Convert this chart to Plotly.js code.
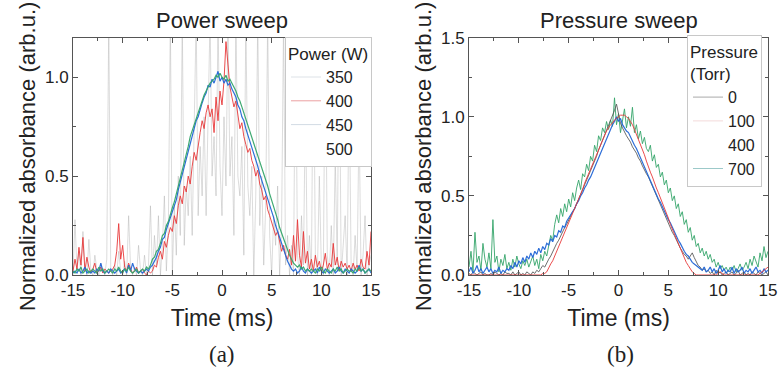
<!DOCTYPE html>
<html><head><meta charset="utf-8">
<script src="https://cdn.plot.ly/plotly-3.0.1.min.js"></script>
<style>html,body{margin:0;padding:0;background:#fff}#chart{width:778px;height:373px}</style>
</head><body><div id="chart"></div>
<script>
// time grid (ms), 0.2 ms step from -15 to 15
const tStart = -15, tStep = 0.2, tCount = 151;
const time = Array.from({length: tCount}, (_, i) => +(tStart + tStep * i).toFixed(1));

// ---- (a) Power sweep, normalized absorbance ----
const power350 = [
0.0,0.28,0.02,0.12,0.0,0.22,0.05,0.0,0.18,0.02,
0.0,0.1,0.03,0.0,0.06,0.02,0.0,0.08,1.3,0.02,
0.0,0.05,0.0,0.12,0.02,0.0,0.07,0.0,0.3,0.03,
0.0,0.04,0.0,0.15,0.02,0.0,0.1,0.0,0.05,0.35,
0.0,0.2,0.05,0.3,0.0,0.15,0.4,0.02,0.25,1.3,
0.0,0.35,0.1,0.5,0.2,1.3,0.15,0.45,0.3,0.6,
0.2,0.7,1.3,0.3,0.65,0.4,0.8,0.3,0.75,1.3,
0.5,0.7,0.4,1.3,0.55,0.3,0.8,0.45,1.3,0.5,
0.7,0.2,1.3,0.5,0.4,0.65,0.1,1.3,0.45,0.3,
0.55,0.0,0.4,1.3,0.25,0.5,0.05,0.35,1.3,0.2,
0.0,0.3,0.15,0.45,0.0,0.25,1.3,0.05,0.2,0.0,
0.15,0.0,1.3,0.1,0.0,0.3,0.05,0.9,0.0,0.2,
0.0,1.3,0.1,0.0,0.5,0.05,0.0,1.3,0.1,0.0,
0.25,0.0,0.6,0.05,1.3,0.0,0.15,0.3,0.0,1.0,
0.05,0.0,0.2,0.02,0.8,0.0,0.1,0.3,0.0,0.05,
0.1];
const power400 = [
0.02,0.08,0.03,0.14,0.05,0.19,0.02,0.09,0.04,0.01,
0.03,0.06,0.01,0.02,0.04,0.01,0.03,0.02,0.01,0.02,
0.03,0.05,0.12,0.26,0.08,0.15,0.04,0.02,0.06,0.03,
0.01,0.02,0.04,0.01,0.02,0.03,0.01,0.0,0.02,0.01,
0.02,0.05,0.04,0.09,0.12,0.08,0.17,0.14,0.2,0.24,
0.22,0.3,0.26,0.35,0.4,0.36,0.45,0.42,0.5,0.46,
0.55,0.62,0.58,0.66,0.72,0.78,0.74,0.82,0.86,0.8,
0.84,0.72,0.9,0.78,0.93,0.86,0.98,1.18,1.05,0.95,
0.9,0.85,0.88,0.8,0.74,0.77,0.7,0.66,0.62,0.64,
0.58,0.55,0.5,0.53,0.46,0.43,0.38,0.4,0.33,0.3,
0.27,0.24,0.2,0.22,0.16,0.12,0.15,0.1,0.08,0.13,
0.05,0.2,0.07,0.28,0.1,0.04,0.22,0.06,0.12,0.03,
0.08,0.02,0.1,0.04,0.07,0.02,0.05,0.11,0.03,0.06,
0.04,0.16,0.05,0.09,0.02,0.07,0.04,0.06,0.03,0.05,
0.02,0.06,0.03,0.05,0.02,0.08,0.04,0.03,0.12,0.05,
0.22];
const power450 = [
0.01,0.02,0.01,0.03,0.01,0.02,0.04,0.01,0.02,0.01,
0.02,0.01,0.03,0.02,0.06,0.02,0.01,0.02,0.01,0.03,
0.02,0.01,0.02,0.03,0.01,0.02,0.03,0.01,0.05,0.02,
0.06,0.03,0.02,0.01,0.02,0.01,0.02,0.03,0.02,0.04,
0.05,0.07,0.09,0.12,0.14,0.18,0.19,0.23,0.26,0.29,
0.32,0.36,0.38,0.43,0.47,0.5,0.55,0.58,0.63,0.66,
0.7,0.74,0.78,0.8,0.84,0.87,0.9,0.92,0.96,0.95,
0.99,0.97,1.0,1.03,0.98,1.0,0.97,0.99,0.96,0.97,
0.94,0.92,0.9,0.86,0.84,0.8,0.78,0.74,0.71,0.68,
0.65,0.61,0.58,0.55,0.51,0.48,0.45,0.41,0.38,0.35,
0.32,0.29,0.25,0.22,0.18,0.16,0.12,0.1,0.07,0.05,
0.03,0.02,0.03,0.01,0.02,0.04,0.02,0.01,0.03,0.02,
0.01,0.02,0.03,0.01,0.04,0.02,0.01,0.03,0.02,0.01,
0.02,0.03,0.01,0.02,0.04,0.02,0.01,0.03,0.02,0.01,
0.03,0.02,0.01,0.02,0.05,0.02,0.03,0.01,0.02,0.03,
0.01];
const power500 = [
0.02,0.01,0.03,0.02,0.04,0.01,0.02,0.03,0.01,0.02,
0.03,0.02,0.01,0.04,0.02,0.03,0.01,0.02,0.03,0.02,
0.01,0.03,0.02,0.04,0.02,0.01,0.03,0.02,0.04,0.02,
0.01,0.02,0.03,0.01,0.02,0.03,0.02,0.04,0.03,0.05,
0.08,0.09,0.12,0.13,0.16,0.2,0.21,0.25,0.27,0.31,
0.34,0.37,0.41,0.44,0.49,0.53,0.57,0.61,0.65,0.7,
0.73,0.76,0.8,0.82,0.86,0.88,0.91,0.93,0.95,0.97,
0.98,0.99,1.01,1.0,1.02,1.0,0.99,1.01,0.98,0.99,
0.97,0.95,0.93,0.9,0.88,0.85,0.82,0.79,0.76,0.73,
0.7,0.67,0.64,0.61,0.58,0.55,0.51,0.48,0.45,0.41,
0.38,0.35,0.31,0.28,0.24,0.21,0.18,0.15,0.12,0.1,
0.08,0.06,0.05,0.04,0.05,0.03,0.04,0.02,0.03,0.02,
0.03,0.02,0.01,0.03,0.02,0.04,0.02,0.01,0.03,0.02,
0.01,0.03,0.02,0.04,0.02,0.03,0.01,0.02,0.03,0.02,
0.02,0.01,0.03,0.02,0.04,0.02,0.03,0.01,0.02,0.03,
0.02];

// ---- (b) Pressure sweep, normalized absorbance ----
const press0 = [
0.01,0.0,0.02,0.01,0.0,0.01,0.02,0.0,0.01,0.0,
0.0,0.01,0.0,0.02,0.01,0.0,0.01,0.0,0.02,0.01,
0.01,0.0,0.02,0.0,0.01,0.02,0.0,0.01,0.0,0.02,
0.01,0.0,0.02,0.01,0.03,0.02,0.04,0.06,0.05,0.08,
0.1,0.12,0.15,0.17,0.2,0.22,0.25,0.27,0.3,0.32,
0.35,0.37,0.4,0.42,0.45,0.48,0.51,0.54,0.57,0.6,
0.62,0.66,0.69,0.72,0.75,0.79,0.82,0.85,0.89,0.92,
0.94,0.97,1.0,1.04,1.08,1.02,0.96,0.93,0.9,0.88,
0.86,0.84,0.81,0.79,0.77,0.74,0.72,0.69,0.66,0.64,
0.62,0.59,0.56,0.53,0.5,0.47,0.44,0.42,0.39,0.36,
0.33,0.3,0.27,0.25,0.22,0.19,0.17,0.15,0.13,0.12,
0.1,0.12,0.14,0.11,0.08,0.06,0.05,0.03,0.04,0.02,
0.03,0.01,0.02,0.0,0.03,0.01,0.02,0.0,0.01,0.02,
0.0,0.01,0.02,0.0,0.01,0.03,0.0,0.01,0.02,0.0,
0.01,0.0,0.02,0.01,0.0,0.02,0.01,0.0,0.01,0.02,
0.0];
const press100 = [
0,0,0,0,0,0,0,0,0,0,
0,0,0,0,0,0,0,0,0,0,
0,0,0,0,0,0,0,0,0,0,
0,0,0,0,0,0,0,0.01,0.01,0.02,
0.05,0.07,0.09,0.12,0.14,0.17,0.2,0.23,0.26,0.29,
0.32,0.35,0.38,0.42,0.45,0.48,0.51,0.54,0.58,0.61,
0.64,0.67,0.7,0.74,0.77,0.8,0.83,0.86,0.88,0.91,
0.93,0.95,0.96,0.98,0.99,1.0,1.01,1.01,1.01,1.0,
0.99,0.97,0.95,0.92,0.89,0.86,0.83,0.79,0.76,0.72,
0.68,0.65,0.62,0.58,0.55,0.52,0.49,0.45,0.42,0.39,
0.36,0.32,0.29,0.25,0.22,0.19,0.16,0.13,0.1,0.08,
0.06,0.04,0.02,0.01,0,0,0,0,0,0,
0,0,0,0,0,0.01,0.02,0.01,0,0,
0,0,0,0,0,0,0,0,0,0,
0,0,0,0,0,0,0.01,0.02,0.03,0.04,
0.05];
const press400 = [
0.02,0.05,0.01,0.03,0.06,0.02,0.04,0.01,0.03,0.05,
0.02,0.04,0.01,0.03,0.02,0.05,0.01,0.03,0.02,0.04,
0.03,0.06,0.04,0.08,0.05,0.09,0.07,0.11,0.08,0.12,
0.1,0.14,0.11,0.15,0.13,0.17,0.14,0.18,0.16,0.2,
0.19,0.23,0.21,0.25,0.24,0.28,0.27,0.31,0.3,0.34,
0.36,0.38,0.4,0.42,0.45,0.47,0.5,0.52,0.55,0.57,
0.6,0.62,0.65,0.68,0.71,0.74,0.77,0.8,0.84,0.86,
0.89,0.92,0.95,0.97,1.0,0.97,0.99,0.95,0.93,0.91,
0.9,0.87,0.85,0.82,0.8,0.77,0.74,0.71,0.68,0.66,
0.63,0.6,0.57,0.54,0.51,0.48,0.46,0.43,0.4,0.38,
0.35,0.33,0.3,0.27,0.25,0.22,0.2,0.17,0.15,0.13,
0.12,0.1,0.08,0.07,0.06,0.05,0.04,0.03,0.05,0.02,
0.03,0.05,0.02,0.04,0.01,0.03,0.06,0.02,0.04,0.01,
0.03,0.02,0.05,0.01,0.04,0.02,0.03,0.05,0.01,0.03,
0.02,0.04,0.01,0.03,0.05,0.02,0.03,0.01,0.04,0.02,
0.03];
const press700 = [
0.05,0.15,0.02,0.27,0.08,0.12,0.03,0.2,0.1,0.05,
0.14,0.04,0.35,0.08,0.12,0.02,0.1,0.06,0.13,0.04,
0.08,0.03,0.1,0.05,0.12,0.07,0.04,0.09,0.06,0.1,
0.05,0.08,0.12,0.06,0.1,0.04,0.13,0.09,0.15,0.12,
0.18,0.25,0.22,0.32,0.38,0.33,0.42,0.37,0.45,0.4,
0.48,0.43,0.52,0.47,0.55,0.6,0.54,0.64,0.62,0.7,
0.66,0.75,0.72,0.82,0.78,0.88,0.85,0.93,0.9,0.97,
0.92,0.98,0.94,1.12,0.95,1.02,0.9,0.97,1.05,0.93,
1.0,0.94,1.06,0.9,0.95,0.86,0.91,0.83,0.87,0.8,
0.78,0.82,0.72,0.76,0.68,0.7,0.62,0.65,0.57,0.6,
0.52,0.55,0.47,0.5,0.42,0.45,0.37,0.4,0.32,0.35,
0.27,0.3,0.22,0.25,0.18,0.2,0.14,0.17,0.12,0.15,
0.1,0.13,0.08,0.1,0.05,0.08,0.04,0.06,0.03,0.05,
0.02,0.05,0.03,0.06,0.02,0.04,0.07,0.03,0.05,0.08,
0.04,0.1,0.06,0.12,0.08,0.05,0.14,0.09,0.18,0.11,
0.15];

const powerLabels = ['350','400','450','500'];
const pressLabels = ['0','100','400','700'];

const C = {gray:'#a8a8a8', red:'#e8383a', blue:'#2266d6', green:'#35a56a', dark:'#555555'};

function line(x, y, color, xa, ya, w, op) {
  return {x: x, y: y, type:'scatter', mode:'lines', xaxis:xa, yaxis:ya,
    line:{color:color, width:w||1}, opacity:op||1, showlegend:false, hoverinfo:'skip'};
}
function legendItem(name, color, leg) {
  return {x:[null], y:[null], type:'scatter', mode:'lines', name:name, legend:leg,
    line:{color:color, width:1}, showlegend:true, xaxis:'x', yaxis:'y'};
}

const traces = [
  line(time, power350, C.gray, 'x', 'y', 0.8, 0.5),
  line(time, power400, C.red, 'x', 'y', 1, 0.9),
  line(time, power450, C.blue, 'x', 'y', 1.2, 0.95),
  line(time, power500, C.green, 'x', 'y', 1.2, 0.95),
  line(time, press700, C.green, 'x2', 'y2', 1, 0.9),
  line(time, press0, C.dark, 'x2', 'y2', 1, 0.85),
  line(time, press400, C.blue, 'x2', 'y2', 1.2, 0.95),
  line(time, press100, C.red, 'x2', 'y2', 1, 0.9),
  legendItem(powerLabels[0], '#dde2e7', 'legend'),
  legendItem(powerLabels[1], '#eba0a2', 'legend'),
  legendItem(powerLabels[2], '#d2dbe4', 'legend'),
  legendItem(powerLabels[3], 'rgba(255,255,255,0)', 'legend'),
  legendItem(pressLabels[0], '#a9a9a9', 'legend2'),
  legendItem(pressLabels[1], '#f3dada', 'legend2'),
  legendItem(pressLabels[2], 'rgba(255,255,255,0)', 'legend2'),
  legendItem(pressLabels[3], '#9cc9c9', 'legend2')
];

const font = 'Arial';
function xax(domain, anchor) {
  return {domain:domain, anchor:anchor, range:[-15,15], tickvals:[-15,-10,-5,0,5,10,15],
    ticktext:['-15','-10','-5','0','5','10','15'],
    ticks:'inside', ticklen:5, tickcolor:'#555', showline:true, linecolor:'#555', linewidth:1,
    mirror:'allticks', showgrid:false, zeroline:false,
    minor:{ticks:'inside', ticklen:3, tickcolor:'#555', dtick:2.5, tick0:0},
    tickfont:{family:font, size:17, color:'#222'},
    title:{text:'Time (ms)', font:{family:font, size:23, color:'#222'}, standoff:10}};
}
function yax(domain, anchor, top) {
  return {domain:domain, anchor:anchor, range:[0, top], dtick:0.5, tickformat:'.1f',
    ticks:'inside', ticklen:5, tickcolor:'#555', showline:true, linecolor:'#555', linewidth:1,
    mirror:'allticks', showgrid:false, zeroline:false,
    minor:{ticks:'inside', ticklen:3, tickcolor:'#555', dtick:0.25},
    tickfont:{family:font, size:17, color:'#222'},
    title:{text:'Normalized absorbance (arb.u.)', font:{family:font, size:22, color:'#222'}, standoff:3}};
}
const yDom = [0.2627, 0.899];
const layout = {
  width:778, height:373, margin:{l:0, r:0, t:0, b:0},
  paper_bgcolor:'#fff', plot_bgcolor:'#fff',
  xaxis: xax([73/778, 371/778], 'y'),
  yaxis: yax(yDom, 'x', 1.2),
  xaxis2: xax([469/778, 768/778], 'y2'),
  yaxis2: yax(yDom, 'x2', 1.5),
  legend:{x:285/778, y:1-37/373, xanchor:'left', yanchor:'top', bgcolor:'#fff',
    bordercolor:'#c8c8c8', borderwidth:1, font:{family:font, size:16, color:'#222'},
    title:{text:'Power (W)', font:{family:font, size:17, color:'#222'}}, itemwidth:30, tracegroupgap:0},
  legend2:{x:687/778, y:1-35/373, xanchor:'left', yanchor:'top', bgcolor:'#fff',
    bordercolor:'#c8c8c8', borderwidth:1, font:{family:font, size:16, color:'#222'},
    title:{text:'Pressure<br>(Torr)', font:{family:font, size:17, color:'#222'}}, itemwidth:30, tracegroupgap:0},
  annotations:[
    {text:'Power sweep', xref:'paper', yref:'paper', x:222/778, y:1-20/373, xanchor:'center', yanchor:'middle',
      showarrow:false, font:{family:font, size:22, color:'#222'}},
    {text:'Pressure sweep', xref:'paper', yref:'paper', x:619/778, y:1-20/373, xanchor:'center', yanchor:'middle',
      showarrow:false, font:{family:font, size:22, color:'#222'}},
    {text:'(a)', xref:'paper', yref:'paper', x:222/778, y:1-354/373, xanchor:'center', yanchor:'middle',
      showarrow:false, font:{family:'Liberation Serif, Times New Roman, serif', size:23, color:'#222'}},
    {text:'(b)', xref:'paper', yref:'paper', x:620/778, y:1-354/373, xanchor:'center', yanchor:'middle',
      showarrow:false, font:{family:'Liberation Serif, Times New Roman, serif', size:23, color:'#222'}}
  ]
};
Plotly.newPlot('chart', traces, layout, {staticPlot:true, displayModeBar:false});
</script></body></html>
